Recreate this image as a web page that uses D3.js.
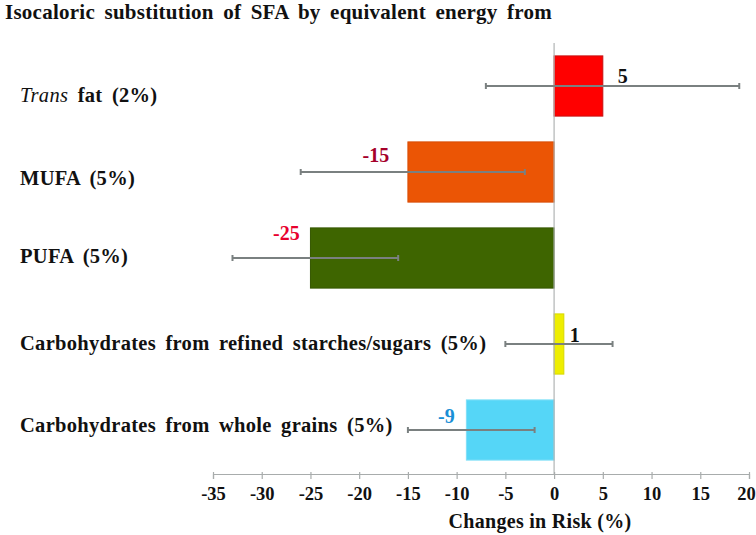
<!DOCTYPE html>
<html>
<head>
<meta charset="utf-8">
<script src="https://cdn.jsdelivr.net/npm/d3@7"></script>
<style>
  html, body { margin: 0; padding: 0; background: #fff; }
  svg { display: block; font-family: "Liberation Serif", "Times New Roman", serif; }
</style>
</head>
<body>
<svg id="chart" width="756" height="535"></svg>
<script>
// ---- data ----
const titleText = "Isocaloric substitution of SFA by equivalent energy from";
const categories = ["Trans fat (2%)", "MUFA (5%)", "PUFA (5%)",
  "Carbohydrates from refined starches/sugars (5%)", "Carbohydrates from whole grains (5%)"];
const values = [5, -15, -25, 1, -9];
const ciLow = [-7, -26, -33, -5, -15];
const ciHigh = [19, -3, -16, 6, -2];
const barColors = ["#ff0000", "#eb5505", "#3e6500", "#eeee00", "#55d6f7"];
const barStrokes = ["#c81010", "#d84c05", "#355700", "#d8d800", "#7fdff7"];
const valueLabelColors = ["#111111", "#a5002a", "#e8002e", "#111111", "#1a8fd6"];
const xTicks = [-35, -30, -25, -20, -15, -10, -5, 0, 5, 10, 15, 20];
const xTitle = "Changes in Risk (%)";

// ---- layout ----
const svg = d3.select("#chart");
const x = d3.scaleLinear().domain([-35, 20]).range([213, 749]);
const y = d3.scaleBand().domain(d3.range(categories.length)).range([43, 473]).paddingInner(0.3).paddingOuter(0.15);
const axisY = 474;

// label offsets (px) relative to bar end / band center
const valLabelDx = [20, -32, -24, 11, -20];
const valLabelDy = [-3, -10, -18, -2, -7];
const catLabelDy = [9, 6, -2, -1, -5];

// title
svg.append("text").attr("x", 5).attr("y", 19)
  .attr("font-size", 21).attr("font-weight", "bold").attr("fill", "#111")
  .attr("word-spacing", "4px").attr("letter-spacing", "0.25px")
  .text(titleText);

// bars
const g = svg.append("g");
g.selectAll("rect.bar").data(values).join("rect")
  .attr("class", "bar")
  .attr("x", d => x(Math.min(0, d)))
  .attr("width", d => Math.abs(x(d) - x(0)))
  .attr("y", (d, i) => y(i))
  .attr("height", y.bandwidth())
  .attr("fill", (d, i) => barColors[i])
  .attr("stroke", (d, i) => barStrokes[i])
  .attr("stroke-width", 1);

// zero line
svg.append("line").attr("x1", x(0)).attr("x2", x(0)).attr("y1", 43).attr("y2", axisY)
  .attr("stroke", "#b0b4b4").attr("stroke-width", 1.2);

// error bars
const eb = svg.append("g").attr("stroke", "#7a8080").attr("stroke-width", 2);
values.forEach((v, i) => {
  const cy = y(i) + y.bandwidth() / 2;
  eb.append("line").attr("x1", x(ciLow[i])).attr("x2", x(ciHigh[i])).attr("y1", cy).attr("y2", cy);
  [ciLow[i], ciHigh[i]].forEach(c => {
    eb.append("line").attr("x1", x(c)).attr("x2", x(c)).attr("y1", cy - 3).attr("y2", cy + 3);
  });
});

// value labels
svg.append("g").selectAll("text").data(values).join("text")
  .attr("x", (d, i) => x(d) + valLabelDx[i])
  .attr("y", (d, i) => y(i) + y.bandwidth() / 2 + valLabelDy[i])
  .attr("text-anchor", "middle")
  .attr("font-size", 20).attr("font-weight", "bold")
  .attr("fill", (d, i) => valueLabelColors[i])
  .text(d => d);

// category labels
const cl = svg.append("g").selectAll("text").data(categories).join("text")
  .attr("x", 20)
  .attr("y", (d, i) => y(i) + y.bandwidth() / 2 + catLabelDy[i])
  .attr("dy", "0.35em")
  .attr("font-size", 20.5).attr("font-weight", "bold").attr("fill", "#111")
  .attr("word-spacing", "4px").attr("letter-spacing", "0.3px");
cl.each(function(d) {
  const t = d3.select(this);
  if (d.startsWith("Trans")) {
    t.append("tspan").attr("font-style", "italic").attr("font-weight", "normal").text("Trans");
    t.append("tspan").text(d.slice(5));
  } else {
    t.text(d);
  }
});

// x axis
const axis = d3.axisBottom(x).tickValues(xTicks).tickSize(5).tickPadding(8).tickFormat(d3.format("d"));
const ax = svg.append("g").attr("transform", `translate(0,${axisY})`).call(axis);
ax.select(".domain").attr("stroke", "#a8acac").attr("stroke-width", 1.2);
ax.selectAll(".tick line").attr("stroke", "#a8acac").attr("stroke-width", 1.2).attr("y1", -2);
ax.selectAll(".tick text").attr("font-size", 18.5).attr("font-weight", "bold").attr("fill", "#111")
  .attr("font-family", "Liberation Serif, Times New Roman, serif")
  .attr("dx", d => d === 20 ? -3 : 0)
  .text(d => d < 0 ? "-" + Math.abs(d) : d);

// axis title
svg.append("text").attr("x", 540).attr("y", 528).attr("text-anchor", "middle")
  .attr("font-size", 20).attr("font-weight", "bold").attr("fill", "#111")
  .attr("letter-spacing", "0.3px")
  .text(xTitle);
</script>
</body>
</html>
